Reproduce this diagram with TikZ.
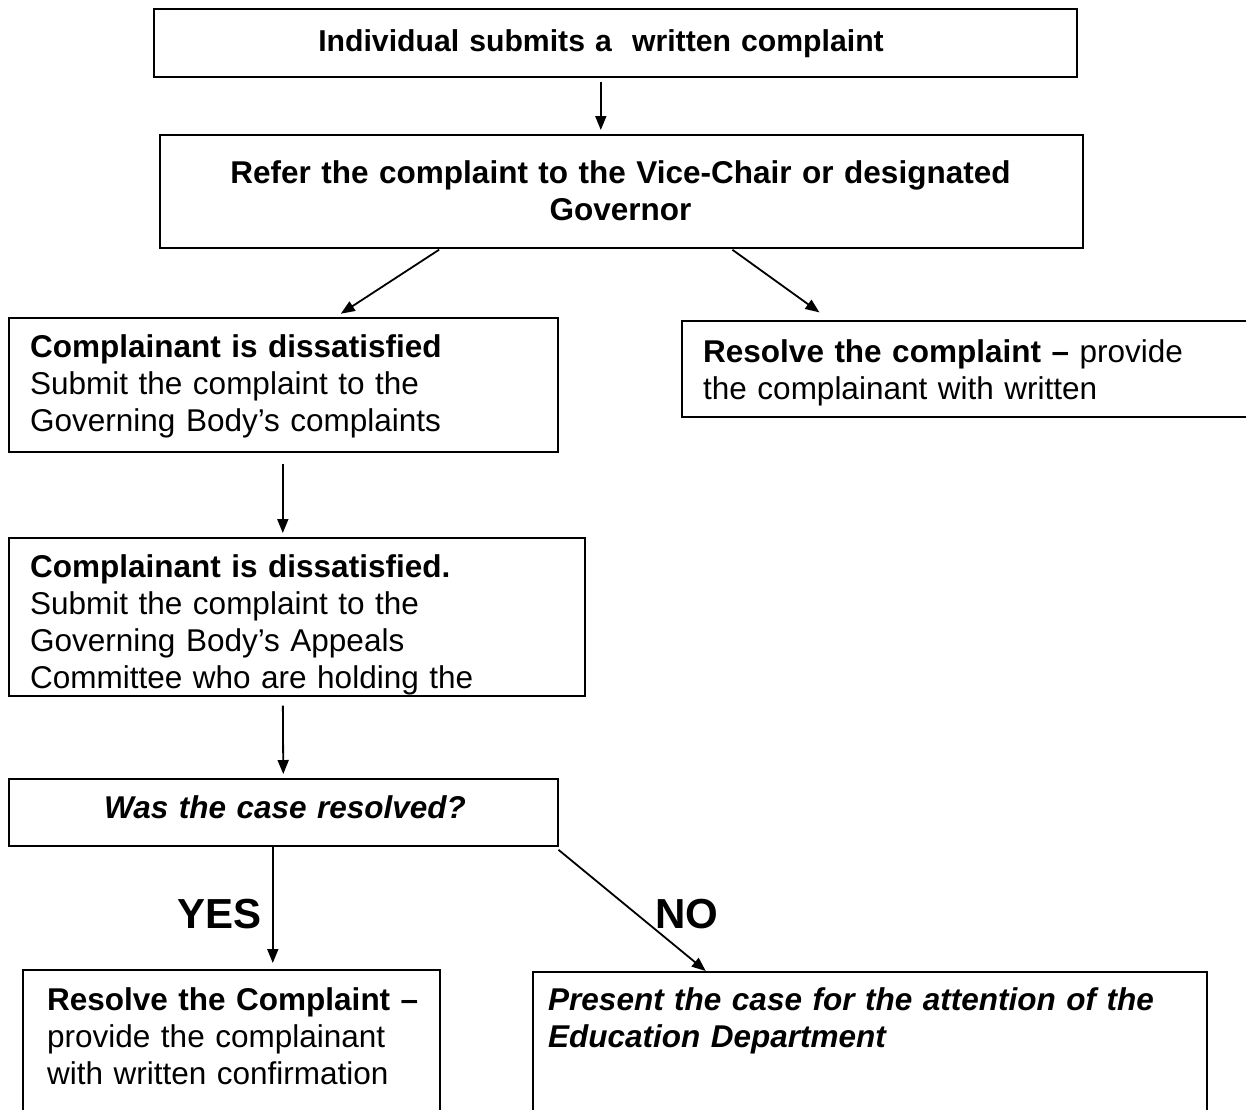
\documentclass[tikz,border=0pt]{standalone}
\usepackage{fontspec}
\setmainfont{Liberation Sans}
\usetikzlibrary{arrows.meta}
\begin{document}
\begin{tikzpicture}[x=1pt,y=-1pt,
  stepbox/.style={draw, line width=1.6pt, inner sep=0pt, anchor=north west},
  txt/.style={inner sep=0pt, font=\fontsize{31.5}{37}\selectfont},
  lefttxt/.style={txt, anchor=base west, text width=#1, align=left},
  midtxt/.style={txt, anchor=base, text width=#1, align=center},
  flow/.style={line width=1.8pt, -{Triangle[length=14pt,width=11pt]}},
  answer/.style={inner sep=0pt, anchor=base west, font=\fontsize{42}{48}\selectfont\bfseries}]
\clip (0,0) rectangle (1246,1109);
\fill[white] (0,0) rectangle (1246,1109);

% boxes
\node[stepbox, minimum width=923pt, minimum height=68pt]  (b1) at (153,8)   {};
\node[stepbox, minimum width=923pt, minimum height=113pt] (b2) at (159,134) {};
\node[stepbox, minimum width=549pt, minimum height=134pt] (b3) at (8,317)   {};
\node[stepbox, minimum width=581pt, minimum height=96pt]  (b4) at (681,320) {};
\node[stepbox, minimum width=576pt, minimum height=158pt] (b5) at (8,537)   {};
\node[stepbox, minimum width=549pt, minimum height=67pt]  (b6) at (8,778)   {};
\node[stepbox, minimum width=417pt, minimum height=160pt] (b7) at (22,969)  {};
\node[stepbox, minimum width=674pt, minimum height=160pt] (b8) at (532,971) {};

% texts
\node[midtxt=900pt, font=\fontsize{30.2}{37}\selectfont] (t1) at (601,51) {\bfseries Individual submits a\ \ written complaint};
\node[midtxt=900pt] (t2) at (620.5,183) {\bfseries Refer the complaint to the Vice-Chair or designated\\Governor};
\node[lefttxt=540pt] (t3) at (30,357) {\textbf{Complainant is dissatisfied}\\Submit the complaint to the\\Governing Body’s complaints};
\node[lefttxt=560pt] (t4) at (703,362) {\textbf{Resolve the complaint –} provide\\the complainant with written};
\begin{scope}
  \clip (b5.north west) rectangle (b5.south east);
  \node[lefttxt=560pt] (t5) at (30,577) {\textbf{Complainant is dissatisfied.}\\Submit the complaint to the\\Governing Body’s Appeals\\Committee who are holding the};
\end{scope}
\node[midtxt=540pt] (t6) at (285,818) {\bfseries\itshape Was the case resolved?};
\node[lefttxt=420pt] (t7) at (47,1010) {\textbf{Resolve the Complaint –}\\provide the complainant\\with written confirmation};
\node[lefttxt=660pt] (t8) at (548,1010) {\bfseries\itshape Present the case for the attention of the\\Education Department};
\node[answer] (yes) at (177,928) {YES};
\node[answer] (no)  at (655,928) {NO};

% connectors
\draw[flow, shorten <=4pt, shorten >=4pt] ([xshift=-14.5pt]b1.south) -- ([xshift=-20.5pt]b2.north);
\draw[flow, shorten <=2pt, shorten >=6pt] ([xshift=-180.5pt]b2.south) -- ([xshift=52.5pt]b3.north);
\draw[flow, shorten <=2pt, shorten >=13pt] ([xshift=109.5pt]b2.south) -- ([xshift=149pt]b4.north west);
\draw[flow, shorten <=11pt, shorten >=4pt] ([xshift=-0.5pt]b3.south) -- ([xshift=-14pt]b5.north);
\draw[flow, shorten <=9pt, shorten >=4pt] ([xshift=-14pt]b5.south) -- (b6.north);
\draw[flow, shorten >=6pt] ([xshift=-10.5pt]b6.south) -- ([xshift=41.5pt]b7.north);
\draw[flow, shorten <=5pt] ([xshift=-4pt]b6.south east) -- ([xshift=-164pt]b8.north);
\end{tikzpicture}
\end{document}
